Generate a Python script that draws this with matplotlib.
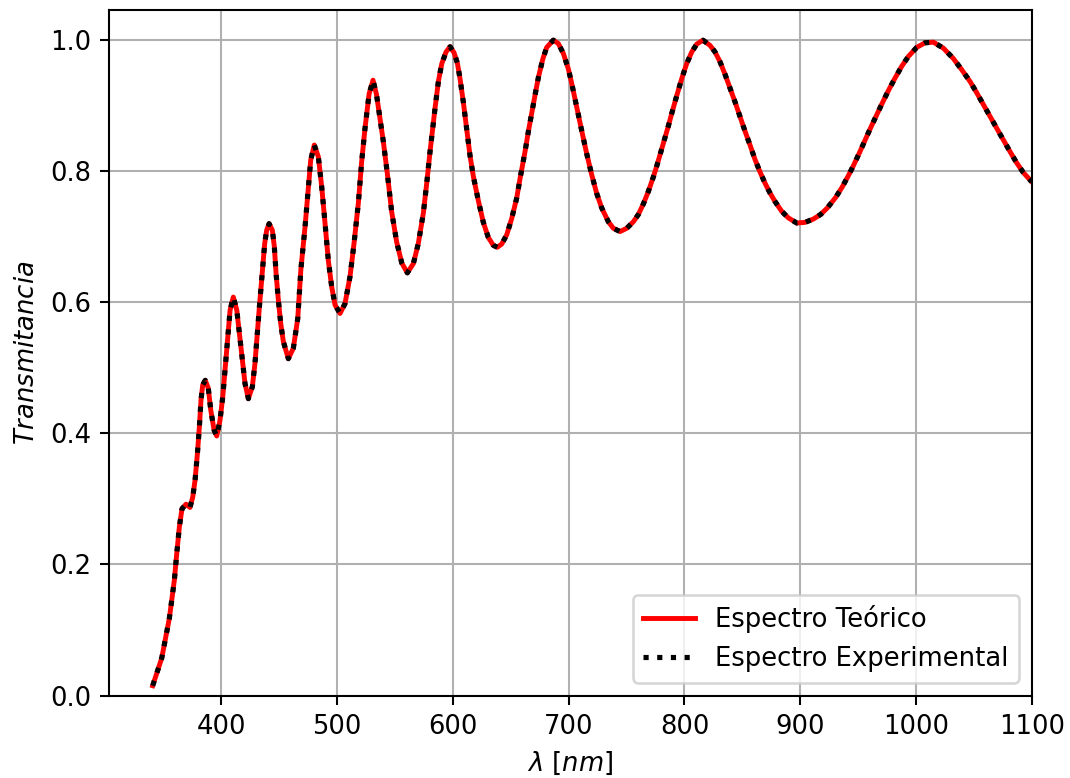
import numpy as np
import matplotlib
matplotlib.use("Agg")
import matplotlib.pyplot as plt

# Wavelength grid [nm]
wavelength = [
    341.0, 348.8, 355.4, 359.7, 361.8, 364.0, 366.3, 369.8, 373.2, 375.6,
    377.6, 379.6, 381.3, 382.7, 384.2, 386.4, 389.0, 391.1, 394.0, 396.3,
    399.1, 401.5, 403.7, 405.8, 407.8, 410.6, 413.6, 415.8, 418.4, 420.7,
    423.6, 427.0, 429.3, 431.3, 433.1, 434.6, 436.0, 437.7, 439.4, 441.5,
    444.3, 446.0, 447.5, 449.5, 451.5, 453.8, 458.1, 462.4, 466.2, 468.9,
    472.5, 475.4, 477.4, 480.5, 484.0, 486.9, 489.8, 492.6, 495.5, 498.4,
    502.7, 507.0, 511.3, 514.8, 518.5, 521.4, 524.3, 527.8, 531.2, 534.2,
    537.2, 540.1, 543.5, 547.3, 551.6, 556.0, 560.8, 566.0, 570.3, 574.6,
    577.5, 580.4, 584.7, 587.6, 590.5, 594.2, 597.7, 601.1, 604.0, 606.3,
    609.1, 612.1, 614.9, 617.8, 622.1, 626.4, 630.7, 635.0, 638.5, 642.3,
    646.6, 650.9, 655.2, 658.1, 662.4, 665.2, 668.2, 671.0, 673.9, 677.7,
    681.1, 686.8, 691.1, 695.4, 699.8, 702.7, 707.0, 711.3, 715.6, 719.9,
    724.3, 728.6, 734.3, 738.6, 744.4, 750.2, 755.9, 760.2, 764.5, 768.8,
    773.1, 776.1, 778.9, 783.2, 786.1, 789.0, 793.3, 797.6, 801.9, 806.3,
    810.6, 816.0, 822.1, 826.4, 830.7, 835.0, 839.3, 843.6, 848.0, 852.3,
    856.6, 860.9, 865.2, 869.5, 873.8, 878.1, 883.9, 889.6, 896.9, 904.0,
    911.2, 917.5, 923.3, 930.5, 936.2, 941.4, 945.7, 951.5, 955.8, 960.1,
    965.9, 970.2, 976.0, 981.7, 987.5, 993.2, 1000.5, 1007.6, 1014.8, 1023.4,
    1032.1, 1039.3, 1046.5, 1052.2, 1057.9, 1063.7, 1069.4, 1075.2, 1081.0, 1086.7,
    1092.5, 1099.7,
]

# Theoretical transmittance of the thin film
t_teorico = [
    0.015, 0.057, 0.118, 0.176, 0.217, 0.257, 0.285, 0.292, 0.287, 0.303,
    0.329, 0.369, 0.410, 0.451, 0.474, 0.481, 0.469, 0.436, 0.405, 0.396,
    0.420, 0.456, 0.502, 0.547, 0.588, 0.608, 0.588, 0.553, 0.512, 0.476,
    0.453, 0.471, 0.507, 0.553, 0.593, 0.625, 0.654, 0.690, 0.710, 0.720,
    0.710, 0.685, 0.644, 0.603, 0.568, 0.540, 0.514, 0.530, 0.575, 0.650,
    0.715, 0.776, 0.817, 0.840, 0.822, 0.776, 0.720, 0.664, 0.624, 0.596,
    0.583, 0.598, 0.639, 0.690, 0.751, 0.815, 0.866, 0.918, 0.939, 0.917,
    0.880, 0.845, 0.797, 0.738, 0.692, 0.660, 0.645, 0.659, 0.690, 0.736,
    0.781, 0.830, 0.896, 0.937, 0.964, 0.982, 0.990, 0.981, 0.965, 0.941,
    0.906, 0.864, 0.824, 0.792, 0.755, 0.722, 0.699, 0.687, 0.684, 0.689,
    0.703, 0.728, 0.759, 0.789, 0.830, 0.860, 0.889, 0.916, 0.943, 0.971,
    0.989, 1.000, 0.995, 0.980, 0.956, 0.934, 0.898, 0.862, 0.827, 0.795,
    0.766, 0.744, 0.723, 0.713, 0.708, 0.713, 0.723, 0.734, 0.750, 0.769,
    0.791, 0.808, 0.825, 0.851, 0.869, 0.888, 0.915, 0.941, 0.964, 0.982,
    0.994, 1.000, 0.992, 0.982, 0.967, 0.948, 0.927, 0.906, 0.883, 0.861,
    0.840, 0.818, 0.799, 0.782, 0.767, 0.754, 0.739, 0.729, 0.721, 0.722,
    0.727, 0.734, 0.744, 0.760, 0.776, 0.793, 0.808, 0.830, 0.847, 0.864,
    0.886, 0.902, 0.923, 0.942, 0.960, 0.975, 0.989, 0.996, 0.997, 0.988,
    0.972, 0.955, 0.937, 0.920, 0.902, 0.884, 0.866, 0.848, 0.830, 0.813,
    0.798, 0.784,
]

# Measured transmittance (coincides with the model over the whole range)
t_experimental = list(t_teorico)

fig = plt.figure(figsize=(1070 / 186, 778 / 186), dpi=186)
ax = fig.add_axes([0.1022, 0.1060, 0.8623, 0.8811])

ax.plot(wavelength, t_teorico, color="red", lw=1.9, label="Espectro Teórico",
        solid_joinstyle="round")
ax.plot(wavelength, t_experimental, color="black", ls=":", lw=2.0,
        label="Espectro Experimental")

ax.set_xlim(303.6, 1100)
ax.set_ylim(0, 1.046)
ax.set_xticks([400, 500, 600, 700, 800, 900, 1000, 1100])
ax.set_yticks([0.0, 0.2, 0.4, 0.6, 0.8, 1.0])
ax.grid(True)
ax.set_xlabel(r"$\lambda\ [nm]$")
ax.set_ylabel(r"$Transmitancia$")
ax.legend(loc="lower right")

fig.savefig("out.png", dpi=186)
